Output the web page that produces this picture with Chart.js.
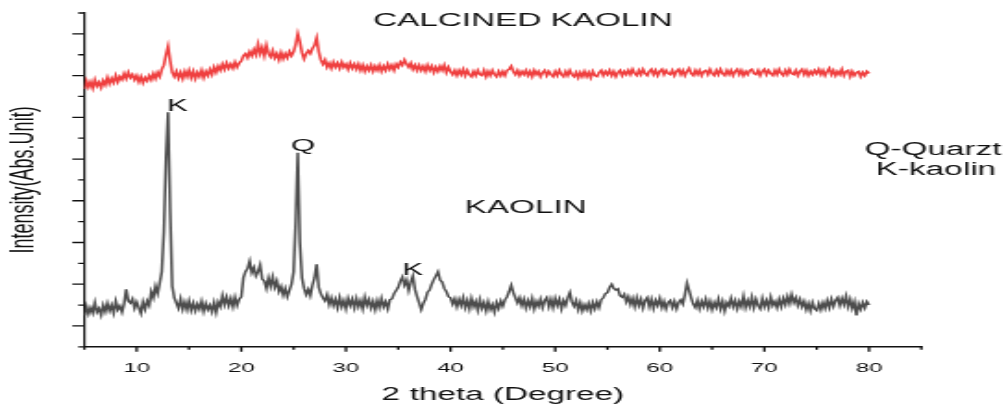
<!DOCTYPE html>
<html>
<head>
<meta charset="utf-8">
<title>XRD - Kaolin / Calcined kaolin</title>
<script src="https://cdn.jsdelivr.net/npm/chart.js@4.4.1/dist/chart.umd.min.js"></script>
<style>
  html, body { margin: 0; padding: 0; background: #fff; overflow: hidden; }
  /* the original figure is stretched sideways, so the chart is drawn narrow and widened */
  #wrap { position: absolute; left: 0; top: 0; width: 544px; height: 404px;
          transform: scaleX(1.8493); transform-origin: 0 0; }
</style>
</head>
<body>
<div id="wrap"><canvas id="xrd-chart"></canvas></div>
<script>
// scan: 5.0 .. 80.0 deg 2-theta, 0.2 deg step (one row = 2 deg)
const SCAN_START = 5;
const SCAN_STEP = 0.2;

// raw kaolin pattern (arbitrary intensity units)
const kaolin = [
  1.50, 1.95, 1.58, 1.88, 1.62, 2.12, 1.66, 1.84, 1.52, 2.00,   // 5
  1.68, 2.08, 1.72, 2.00, 1.62, 2.18, 1.78, 1.96, 1.66, 2.06,   // 7
  2.75, 2.20, 2.10, 2.30, 1.85, 2.15, 1.88, 1.60, 2.15, 1.80,   // 9
  2.20, 1.98, 2.65, 2.35, 2.90, 2.55, 3.05, 3.60, 5.50, 9.00,   // 11
  11.24, 6.50, 2.90, 2.35, 2.10, 1.85, 2.30, 1.80, 2.15, 1.78,  // 13
  2.20, 1.75, 2.10, 1.72, 2.05, 1.80, 2.18, 1.70, 2.08, 1.78,   // 15
  2.00, 1.68, 2.12, 1.65, 2.15, 1.92, 2.45, 2.02, 2.38, 1.98,   // 17
  2.32, 1.92, 2.38, 1.98, 2.28, 2.40, 3.30, 3.60, 3.75, 4.10,   // 19
  3.55, 3.80, 3.40, 3.60, 3.92, 3.25, 3.15, 2.80, 3.30, 2.90,   // 21
  3.35, 2.85, 3.15, 2.65, 2.90, 2.48, 2.80, 2.40, 2.70, 3.00,   // 23
  3.60, 6.00, 9.30, 5.00, 3.30, 2.80, 2.50, 2.75, 2.45, 2.95,   // 25
  3.30, 3.95, 2.85, 2.55, 2.35, 2.20, 2.50, 2.02, 2.35, 1.98,   // 27
  2.28, 1.88, 2.36, 1.92, 2.22, 1.82, 2.32, 1.98, 2.28, 1.86,   // 29
  2.32, 1.92, 2.22, 1.82, 2.38, 1.98, 2.26, 1.86, 2.18, 1.78,   // 31
  2.22, 1.88, 2.32, 1.92, 2.16, 1.82, 2.26, 2.30, 2.55, 2.70,   // 33
  2.85, 3.15, 3.35, 2.95, 3.20, 2.70, 3.10, 3.40, 2.75, 2.40,   // 35
  2.10, 1.78, 2.08, 2.28, 2.62, 2.72, 3.00, 3.22, 3.40, 3.60,   // 37
  3.20, 3.10, 2.80, 2.65, 2.40, 2.35, 2.05, 2.30, 1.92, 2.28,   // 39
  1.98, 2.36, 1.88, 2.22, 1.82, 2.32, 1.92, 2.18, 1.76, 2.26,   // 41
  1.84, 2.12, 1.72, 2.16, 1.78, 2.02, 1.66, 2.12, 1.84, 2.20,   // 43
  1.95, 2.25, 2.40, 2.65, 2.95, 2.60, 2.35, 2.10, 2.35, 1.98,   // 45
  2.28, 1.86, 2.22, 1.92, 2.32, 1.82, 2.18, 1.94, 2.28, 1.88,   // 47
  2.22, 2.36, 1.92, 2.28, 1.88, 2.32, 1.98, 2.28, 1.82, 2.22,   // 49
  1.98, 2.35, 2.60, 2.15, 1.95, 2.22, 1.78, 2.12, 1.72, 2.02,   // 51
  1.78, 2.08, 1.72, 2.12, 1.82, 2.16, 1.88, 2.26, 2.35, 2.55,   // 53
  2.60, 2.85, 3.00, 2.80, 2.72, 2.78, 2.45, 2.38, 2.52, 2.15,   // 55
  2.40, 2.02, 2.32, 1.92, 2.36, 1.98, 2.28, 1.86, 2.22, 2.36,   // 57
  1.92, 2.28, 1.84, 2.22, 1.98, 2.32, 1.88, 2.18, 1.82, 2.12,   // 59
  2.22, 1.88, 2.18, 1.82, 2.12, 2.25, 2.05, 2.50, 3.05, 2.70,   // 61
  2.35, 2.05, 1.88, 2.22, 1.82, 2.18, 1.92, 2.28, 1.86, 2.18,   // 63
  1.78, 2.12, 1.88, 2.28, 1.82, 2.18, 1.72, 2.12, 1.94, 2.32,   // 65
  1.92, 2.22, 1.82, 2.18, 1.92, 2.42, 1.88, 2.22, 1.92, 2.38,   // 67
  1.88, 2.28, 1.98, 1.82, 2.32, 1.92, 2.22, 1.88, 2.38, 1.98,   // 69
  2.18, 1.88, 2.28, 1.92, 2.32, 2.02, 2.42, 2.08, 2.50, 2.12,   // 71
  2.36, 1.98, 2.28, 1.92, 2.18, 1.78, 2.08, 1.72, 2.12, 1.82,   // 73
  1.74, 2.08, 1.78, 2.12, 1.84, 2.22, 1.88, 2.28, 1.94, 2.22,   // 75
  2.36, 1.98, 2.32, 2.02, 2.42, 1.92, 2.28, 1.84, 2.16, 1.50,   // 77
  2.06, 1.80, 2.12, 1.86, 2.16, 2.00                            // 79
];

// calcined kaolin pattern, plotted with its offset above the raw one
const calcined = [
  12.35, 12.75, 12.45, 12.70, 12.40, 12.80, 12.50, 12.68, 12.42, 12.76,  // 5
  12.55, 12.90, 12.60, 12.86, 12.66, 13.00, 12.70, 12.95, 12.80, 13.10,  // 7
  12.85, 13.15, 12.90, 13.05, 12.80, 13.00, 12.70, 12.95, 12.65, 12.90,  // 9
  12.75, 13.00, 12.80, 13.10, 12.85, 13.15, 12.95, 13.30, 13.50, 14.00,  // 11
  14.40, 13.70, 13.15, 12.95, 13.20, 12.88, 13.15, 12.85, 13.20, 12.95,  // 13
  13.25, 12.90, 13.20, 12.85, 13.15, 12.95, 13.25, 12.90, 13.20, 13.00,  // 15
  13.30, 13.05, 13.40, 13.15, 13.45, 13.25, 13.55, 13.30, 13.60, 13.35,  // 17
  13.55, 13.35, 13.65, 13.40, 13.60, 13.70, 13.95, 14.05, 13.85, 14.15,  // 19
  13.95, 14.25, 14.00, 14.50, 14.05, 14.35, 13.95, 14.45, 14.05, 13.90,  // 21
  14.20, 13.85, 14.05, 13.75, 14.10, 13.80, 14.05, 13.85, 14.15, 13.95,  // 23
  14.15, 14.50, 15.00, 14.60, 14.10, 13.80, 14.05, 14.20, 14.05, 14.30,  // 25
  14.45, 14.80, 14.15, 13.75, 13.55, 13.75, 13.40, 13.60, 13.35, 13.65,  // 27
  13.40, 13.60, 13.35, 13.65, 13.40, 13.55, 13.30, 13.60, 13.35, 13.55,  // 29
  13.30, 13.55, 13.25, 13.50, 13.20, 13.45, 13.25, 13.50, 13.20, 13.45,  // 31
  13.25, 13.50, 13.20, 13.45, 13.25, 13.55, 13.30, 13.50, 13.25, 13.55,  // 33
  13.40, 13.65, 13.50, 13.75, 13.55, 13.40, 13.60, 13.30, 13.50, 13.25,  // 35
  13.50, 13.25, 13.45, 13.20, 13.50, 13.25, 13.45, 13.15, 13.40, 13.20,  // 37
  13.45, 13.25, 13.50, 13.15, 13.40, 13.20, 13.05, 13.25, 13.00, 13.25,  // 39
  13.05, 13.30, 13.00, 13.25, 13.05, 12.95, 13.20, 13.00, 13.25, 13.05,  // 41
  13.00, 13.25, 12.95, 13.20, 13.00, 13.25, 13.05, 12.95, 13.20, 13.00,  // 43
  13.20, 13.00, 13.25, 13.30, 13.45, 13.20, 13.05, 13.25, 13.00, 13.20,  // 45
  13.05, 13.25, 13.00, 13.20, 12.95, 13.25, 13.05, 13.20, 12.95, 13.15,  // 47
  13.25, 13.00, 13.20, 13.05, 12.95, 13.20, 13.00, 13.25, 13.05, 12.95,  // 49
  13.20, 13.00, 13.25, 13.05, 12.95, 13.15, 12.90, 13.15, 12.95, 13.20,  // 51
  12.95, 13.15, 12.90, 13.20, 13.00, 12.95, 13.15, 13.25, 13.00, 13.20,  // 53
  13.05, 13.25, 13.00, 13.20, 12.95, 13.15, 13.25, 13.00, 13.20, 13.05,  // 55
  13.25, 13.05, 13.30, 13.10, 13.00, 13.25, 13.05, 13.30, 13.10, 13.00,  // 57
  13.20, 13.30, 13.05, 13.25, 13.00, 13.20, 13.30, 13.05, 13.25, 13.10,  // 59
  13.05, 13.25, 13.00, 13.20, 13.30, 13.05, 13.25, 13.00, 13.20, 13.35,  // 61
  13.10, 13.00, 13.25, 13.05, 13.25, 13.00, 13.20, 13.25, 13.05, 13.30,  // 63
  13.10, 13.00, 13.25, 13.05, 13.30, 13.10, 13.00, 13.25, 13.05, 13.25,  // 65
  13.00, 13.20, 13.30, 13.05, 13.25, 13.00, 13.20, 13.05, 13.25, 13.30,  // 67
  13.10, 13.05, 13.25, 13.00, 13.20, 13.30, 13.05, 13.25, 13.10, 13.00,  // 69
  13.25, 13.05, 13.30, 13.10, 13.00, 13.25, 13.05, 13.30, 13.10, 13.05,  // 71
  13.25, 13.00, 13.20, 13.30, 13.05, 13.25, 13.00, 13.20, 13.05, 13.25,  // 73
  13.10, 13.30, 13.05, 13.25, 13.00, 13.20, 13.35, 13.05, 13.25, 13.00,  // 75
  13.20, 13.05, 13.30, 13.00, 13.20, 13.25, 12.95, 13.20, 13.00, 13.15,  // 77
  13.20, 12.95, 13.15, 13.00, 13.20, 13.10                               // 79
];

// scan positions of the detector
const twoTheta = kaolin.map((_, i) => +(SCAN_START + i * SCAN_STEP).toFixed(1));

// text placed on the plot: label, 2-theta, intensity (baseline)
const noteText  = ['CALCINED KAOLIN', 'K', 'Q', 'KAOLIN', 'K', 'Q-Quarzt', 'K-kaolin'];
const noteTheta = [46.9, 13.9, 25.9, 47.2, 36.4, 86.1, 86.4];
const noteLevel = [15.38, 11.29, 9.38, 6.43, 3.43, 9.2, 8.25];
const noteSize  = [18, 17, 17, 18, 17, 18, 18];

const FONT = '"Liberation Sans", Arial, Helvetica, sans-serif';
const INK = '#111';

// axis tick marks (long / short) and the text notes
const xrdDecor = {
    id: 'xrdDecor',
    afterDraw(chart) {
        const { ctx, chartArea, scales } = chart;
        const x = scales.x, y = scales.y;
        ctx.save();
        ctx.strokeStyle = INK;
        ctx.lineWidth = 1.3;
        ctx.beginPath();
        y.ticks.forEach(t => {
            const py = y.getPixelForValue(t.value);
            const len = Math.round(t.value) % 2 === 1 ? 6.5 : 3.3;
            ctx.moveTo(chartArea.left - len, py);
            ctx.lineTo(chartArea.left, py);
        });
        x.ticks.forEach(t => {
            const px = x.getPixelForValue(t.value);
            const len = t.value % 10 === 0 ? 5 : 3;
            ctx.moveTo(px, chartArea.bottom);
            ctx.lineTo(px, chartArea.bottom + len);
        });
        ctx.stroke();

        ctx.fillStyle = INK;
        ctx.textAlign = 'center';
        ctx.textBaseline = 'alphabetic';
        noteText.forEach((txt, i) => {
            ctx.font = noteSize[i] + 'px ' + FONT;
            ctx.fillText(txt, x.getPixelForValue(noteTheta[i]), y.getPixelForValue(noteLevel[i]));
        });
        ctx.restore();
    }
};

const ctx = document.getElementById('xrd-chart').getContext('2d');
new Chart(ctx, {
    type: 'line',
    data: {
        datasets: [
            {
                label: 'Calcined kaolin',
                data: twoTheta.map((t, i) => ({ x: t, y: calcined[i] })),
                borderColor: '#ef4040',
                borderWidth: 1.6,
                pointRadius: 0,
                tension: 0,
                fill: false
            },
            {
                label: 'Kaolin',
                data: twoTheta.map((t, i) => ({ x: t, y: kaolin[i] })),
                borderColor: '#4d4d4d',
                borderWidth: 1.5,
                pointRadius: 0,
                tension: 0,
                fill: false
            }
        ]
    },
    options: {
        responsive: true,
        maintainAspectRatio: false,
        animation: false,
        layout: { padding: { left: 2, right: 45.8, top: 13, bottom: -2 } },
        plugins: {
            legend: { display: false },
            tooltip: { enabled: false }
        },
        scales: {
            x: {
                type: 'linear',
                min: 5,
                max: 85,
                grid: { display: false, drawTicks: false },
                border: { display: true, color: INK, width: 1.6 },
                ticks: {
                    stepSize: 5,
                    autoSkip: false,
                    maxRotation: 0,
                    padding: 13.5,
                    color: INK,
                    font: { family: FONT, size: 13 },
                    callback: v => (v % 10 === 0 && v <= 80) ? v : ''
                },
                title: {
                    display: true,
                    text: '2 theta (Degree)',
                    color: INK,
                    font: { family: FONT, size: 18 },
                    padding: { top: -5, bottom: 0 }
                }
            },
            y: {
                type: 'linear',
                min: 0,
                max: 16,
                grid: { display: false, drawTicks: false },
                border: { display: true, color: INK, width: 1.2 },
                ticks: { display: false, stepSize: 1 },
                title: {
                    display: true,
                    text: 'Intensity(Abs.Unit)',
                    color: INK,
                    font: { family: FONT, size: 18 },
                    padding: { top: 0, bottom: 22 }
                }
            }
        }
    },
    plugins: [xrdDecor]
});
</script>
</body>
</html>
